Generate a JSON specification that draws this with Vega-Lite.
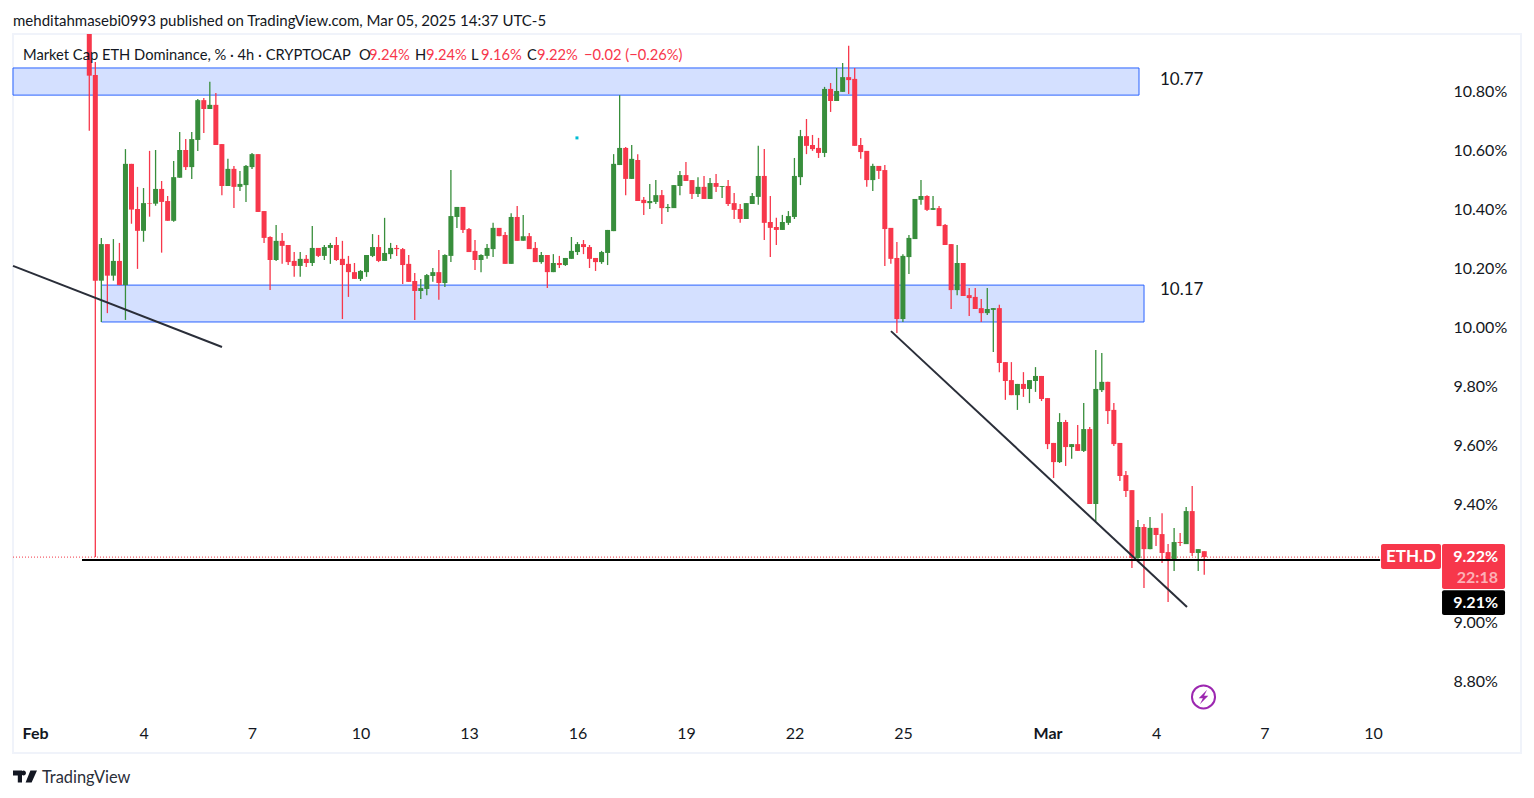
{
"$schema":"https://vega.github.io/schema/vega-lite/v6.json",
"width":1428,"height":686,
"padding":{"left":13,"top":34,"right":93,"bottom":78},
"autosize":"none",
"background":"#ffffff",
"view":{"stroke":null},
"config":{"font":"Lato"},
"datasets":{
"candles":[
{"t":"2025-02-02T12:00:00Z","o":11.02,"h":11.02,"l":10.665,"c":10.852},
{"t":"2025-02-02T16:00:00Z","o":10.854,"h":10.898,"l":9.22,"c":10.157},
{"t":"2025-02-02T20:00:00Z","o":10.157,"h":10.302,"l":10.017,"c":10.281},
{"t":"2025-02-03T00:00:00Z","o":10.281,"h":10.281,"l":10.047,"c":10.174},
{"t":"2025-02-03T04:00:00Z","o":10.174,"h":10.298,"l":10.157,"c":10.224},
{"t":"2025-02-03T08:00:00Z","o":10.224,"h":10.285,"l":10.142,"c":10.142},
{"t":"2025-02-03T12:00:00Z","o":10.142,"h":10.603,"l":10.024,"c":10.553},
{"t":"2025-02-03T16:00:00Z","o":10.553,"h":10.553,"l":10.35,"c":10.398},
{"t":"2025-02-03T20:00:00Z","o":10.4,"h":10.475,"l":10.197,"c":10.326},
{"t":"2025-02-04T00:00:00Z","o":10.326,"h":10.471,"l":10.289,"c":10.42},
{"t":"2025-02-04T04:00:00Z","o":10.42,"h":10.597,"l":10.374,"c":10.418},
{"t":"2025-02-04T08:00:00Z","o":10.418,"h":10.6,"l":10.411,"c":10.468},
{"t":"2025-02-04T12:00:00Z","o":10.468,"h":10.495,"l":10.252,"c":10.424},
{"t":"2025-02-04T16:00:00Z","o":10.427,"h":10.444,"l":10.36,"c":10.36},
{"t":"2025-02-04T20:00:00Z","o":10.36,"h":10.563,"l":10.357,"c":10.508},
{"t":"2025-02-05T00:00:00Z","o":10.506,"h":10.661,"l":10.506,"c":10.6},
{"t":"2025-02-05T04:00:00Z","o":10.6,"h":10.637,"l":10.532,"c":10.542},
{"t":"2025-02-05T08:00:00Z","o":10.542,"h":10.661,"l":10.502,"c":10.637},
{"t":"2025-02-05T12:00:00Z","o":10.634,"h":10.773,"l":10.597,"c":10.769},
{"t":"2025-02-05T16:00:00Z","o":10.769,"h":10.776,"l":10.658,"c":10.739},
{"t":"2025-02-05T20:00:00Z","o":10.739,"h":10.831,"l":10.739,"c":10.753},
{"t":"2025-02-06T00:00:00Z","o":10.753,"h":10.793,"l":10.617,"c":10.617},
{"t":"2025-02-06T04:00:00Z","o":10.62,"h":10.62,"l":10.447,"c":10.478},
{"t":"2025-02-06T08:00:00Z","o":10.478,"h":10.57,"l":10.478,"c":10.536},
{"t":"2025-02-06T12:00:00Z","o":10.536,"h":10.546,"l":10.403,"c":10.475},
{"t":"2025-02-06T16:00:00Z","o":10.475,"h":10.529,"l":10.461,"c":10.485},
{"t":"2025-02-06T20:00:00Z","o":10.481,"h":10.549,"l":10.424,"c":10.546},
{"t":"2025-02-07T00:00:00Z","o":10.542,"h":10.59,"l":10.536,"c":10.586},
{"t":"2025-02-07T04:00:00Z","o":10.586,"h":10.586,"l":10.39,"c":10.39},
{"t":"2025-02-07T08:00:00Z","o":10.393,"h":10.393,"l":10.285,"c":10.302},
{"t":"2025-02-07T12:00:00Z","o":10.305,"h":10.308,"l":10.125,"c":10.227},
{"t":"2025-02-07T16:00:00Z","o":10.227,"h":10.346,"l":10.224,"c":10.292},
{"t":"2025-02-07T20:00:00Z","o":10.292,"h":10.319,"l":10.214,"c":10.275},
{"t":"2025-02-08T00:00:00Z","o":10.278,"h":10.278,"l":10.21,"c":10.22},
{"t":"2025-02-08T04:00:00Z","o":10.224,"h":10.254,"l":10.17,"c":10.207},
{"t":"2025-02-08T08:00:00Z","o":10.207,"h":10.254,"l":10.17,"c":10.231},
{"t":"2025-02-08T12:00:00Z","o":10.231,"h":10.244,"l":10.203,"c":10.217},
{"t":"2025-02-08T16:00:00Z","o":10.217,"h":10.342,"l":10.207,"c":10.268},
{"t":"2025-02-08T20:00:00Z","o":10.268,"h":10.268,"l":10.237,"c":10.241},
{"t":"2025-02-09T00:00:00Z","o":10.241,"h":10.278,"l":10.227,"c":10.271},
{"t":"2025-02-09T04:00:00Z","o":10.268,"h":10.285,"l":10.214,"c":10.278},
{"t":"2025-02-09T08:00:00Z","o":10.278,"h":10.305,"l":10.224,"c":10.227},
{"t":"2025-02-09T12:00:00Z","o":10.231,"h":10.292,"l":10.027,"c":10.21},
{"t":"2025-02-09T16:00:00Z","o":10.214,"h":10.241,"l":10.102,"c":10.186},
{"t":"2025-02-09T20:00:00Z","o":10.186,"h":10.217,"l":10.163,"c":10.163},
{"t":"2025-02-10T00:00:00Z","o":10.163,"h":10.193,"l":10.156,"c":10.19},
{"t":"2025-02-10T04:00:00Z","o":10.186,"h":10.244,"l":10.17,"c":10.244},
{"t":"2025-02-10T08:00:00Z","o":10.241,"h":10.315,"l":10.237,"c":10.271},
{"t":"2025-02-10T12:00:00Z","o":10.271,"h":10.312,"l":10.22,"c":10.224},
{"t":"2025-02-10T16:00:00Z","o":10.224,"h":10.37,"l":10.224,"c":10.251},
{"t":"2025-02-10T20:00:00Z","o":10.247,"h":10.285,"l":10.231,"c":10.268},
{"t":"2025-02-11T00:00:00Z","o":10.268,"h":10.278,"l":10.241,"c":10.264},
{"t":"2025-02-11T04:00:00Z","o":10.264,"h":10.268,"l":10.146,"c":10.21},
{"t":"2025-02-11T08:00:00Z","o":10.214,"h":10.244,"l":10.153,"c":10.153},
{"t":"2025-02-11T12:00:00Z","o":10.156,"h":10.183,"l":10.024,"c":10.122},
{"t":"2025-02-11T16:00:00Z","o":10.122,"h":10.163,"l":10.095,"c":10.132},
{"t":"2025-02-11T20:00:00Z","o":10.129,"h":10.18,"l":10.108,"c":10.176},
{"t":"2025-02-12T00:00:00Z","o":10.173,"h":10.2,"l":10.153,"c":10.186},
{"t":"2025-02-12T04:00:00Z","o":10.186,"h":10.261,"l":10.092,"c":10.149},
{"t":"2025-02-12T08:00:00Z","o":10.149,"h":10.247,"l":10.136,"c":10.244},
{"t":"2025-02-12T12:00:00Z","o":10.241,"h":10.532,"l":10.22,"c":10.376},
{"t":"2025-02-12T16:00:00Z","o":10.373,"h":10.407,"l":10.336,"c":10.407},
{"t":"2025-02-12T20:00:00Z","o":10.407,"h":10.407,"l":10.319,"c":10.329},
{"t":"2025-02-13T00:00:00Z","o":10.332,"h":10.336,"l":10.254,"c":10.254},
{"t":"2025-02-13T04:00:00Z","o":10.258,"h":10.295,"l":10.193,"c":10.227},
{"t":"2025-02-13T08:00:00Z","o":10.227,"h":10.247,"l":10.186,"c":10.244},
{"t":"2025-02-13T12:00:00Z","o":10.241,"h":10.281,"l":10.231,"c":10.268},
{"t":"2025-02-13T16:00:00Z","o":10.264,"h":10.353,"l":10.237,"c":10.336},
{"t":"2025-02-13T20:00:00Z","o":10.336,"h":10.336,"l":10.308,"c":10.308},
{"t":"2025-02-14T00:00:00Z","o":10.312,"h":10.322,"l":10.214,"c":10.214},
{"t":"2025-02-14T04:00:00Z","o":10.214,"h":10.386,"l":10.214,"c":10.373},
{"t":"2025-02-14T08:00:00Z","o":10.373,"h":10.41,"l":10.292,"c":10.292},
{"t":"2025-02-14T12:00:00Z","o":10.292,"h":10.38,"l":10.292,"c":10.308},
{"t":"2025-02-14T16:00:00Z","o":10.308,"h":10.319,"l":10.264,"c":10.264},
{"t":"2025-02-14T20:00:00Z","o":10.268,"h":10.288,"l":10.22,"c":10.22},
{"t":"2025-02-15T00:00:00Z","o":10.22,"h":10.254,"l":10.214,"c":10.244},
{"t":"2025-02-15T04:00:00Z","o":10.244,"h":10.244,"l":10.132,"c":10.186},
{"t":"2025-02-15T08:00:00Z","o":10.186,"h":10.247,"l":10.186,"c":10.217},
{"t":"2025-02-15T12:00:00Z","o":10.217,"h":10.241,"l":10.2,"c":10.21},
{"t":"2025-02-15T16:00:00Z","o":10.21,"h":10.234,"l":10.207,"c":10.234},
{"t":"2025-02-15T20:00:00Z","o":10.231,"h":10.305,"l":10.231,"c":10.258},
{"t":"2025-02-16T00:00:00Z","o":10.254,"h":10.288,"l":10.244,"c":10.281},
{"t":"2025-02-16T04:00:00Z","o":10.281,"h":10.295,"l":10.247,"c":10.271},
{"t":"2025-02-16T08:00:00Z","o":10.271,"h":10.278,"l":10.2,"c":10.231},
{"t":"2025-02-16T12:00:00Z","o":10.234,"h":10.234,"l":10.19,"c":10.22},
{"t":"2025-02-16T16:00:00Z","o":10.22,"h":10.258,"l":10.214,"c":10.254},
{"t":"2025-02-16T20:00:00Z","o":10.251,"h":10.329,"l":10.21,"c":10.329},
{"t":"2025-02-17T00:00:00Z","o":10.325,"h":10.586,"l":10.325,"c":10.553},
{"t":"2025-02-17T04:00:00Z","o":10.549,"h":10.786,"l":10.549,"c":10.607},
{"t":"2025-02-17T08:00:00Z","o":10.607,"h":10.61,"l":10.447,"c":10.502},
{"t":"2025-02-17T12:00:00Z","o":10.502,"h":10.617,"l":10.502,"c":10.57},
{"t":"2025-02-17T16:00:00Z","o":10.566,"h":10.586,"l":10.427,"c":10.427},
{"t":"2025-02-17T20:00:00Z","o":10.431,"h":10.441,"l":10.38,"c":10.42},
{"t":"2025-02-18T00:00:00Z","o":10.42,"h":10.485,"l":10.4,"c":10.427},
{"t":"2025-02-18T04:00:00Z","o":10.424,"h":10.498,"l":10.417,"c":10.447},
{"t":"2025-02-18T08:00:00Z","o":10.447,"h":10.464,"l":10.349,"c":10.403},
{"t":"2025-02-18T12:00:00Z","o":10.403,"h":10.417,"l":10.39,"c":10.407},
{"t":"2025-02-18T16:00:00Z","o":10.403,"h":10.481,"l":10.403,"c":10.481},
{"t":"2025-02-18T20:00:00Z","o":10.478,"h":10.529,"l":10.447,"c":10.515},
{"t":"2025-02-19T00:00:00Z","o":10.515,"h":10.559,"l":10.495,"c":10.495},
{"t":"2025-02-19T04:00:00Z","o":10.498,"h":10.498,"l":10.434,"c":10.451},
{"t":"2025-02-19T08:00:00Z","o":10.451,"h":10.508,"l":10.441,"c":10.475},
{"t":"2025-02-19T12:00:00Z","o":10.475,"h":10.512,"l":10.434,"c":10.434},
{"t":"2025-02-19T16:00:00Z","o":10.434,"h":10.505,"l":10.434,"c":10.488},
{"t":"2025-02-19T20:00:00Z","o":10.488,"h":10.519,"l":10.458,"c":10.475},
{"t":"2025-02-20T00:00:00Z","o":10.475,"h":10.478,"l":10.437,"c":10.478},
{"t":"2025-02-20T04:00:00Z","o":10.478,"h":10.498,"l":10.41,"c":10.417},
{"t":"2025-02-20T08:00:00Z","o":10.42,"h":10.454,"l":10.366,"c":10.397},
{"t":"2025-02-20T12:00:00Z","o":10.4,"h":10.417,"l":10.353,"c":10.366},
{"t":"2025-02-20T16:00:00Z","o":10.366,"h":10.42,"l":10.366,"c":10.42},
{"t":"2025-02-20T20:00:00Z","o":10.417,"h":10.454,"l":10.417,"c":10.444},
{"t":"2025-02-21T00:00:00Z","o":10.441,"h":10.614,"l":10.414,"c":10.512},
{"t":"2025-02-21T04:00:00Z","o":10.512,"h":10.603,"l":10.295,"c":10.353},
{"t":"2025-02-21T08:00:00Z","o":10.356,"h":10.444,"l":10.237,"c":10.336},
{"t":"2025-02-21T12:00:00Z","o":10.339,"h":10.37,"l":10.278,"c":10.329},
{"t":"2025-02-21T16:00:00Z","o":10.329,"h":10.38,"l":10.329,"c":10.356},
{"t":"2025-02-21T20:00:00Z","o":10.353,"h":10.393,"l":10.346,"c":10.376},
{"t":"2025-02-22T00:00:00Z","o":10.373,"h":10.573,"l":10.366,"c":10.512},
{"t":"2025-02-22T04:00:00Z","o":10.508,"h":10.668,"l":10.481,"c":10.647},
{"t":"2025-02-22T08:00:00Z","o":10.647,"h":10.705,"l":10.586,"c":10.614},
{"t":"2025-02-22T12:00:00Z","o":10.617,"h":10.651,"l":10.597,"c":10.603},
{"t":"2025-02-22T16:00:00Z","o":10.607,"h":10.641,"l":10.573,"c":10.59},
{"t":"2025-02-22T20:00:00Z","o":10.59,"h":10.814,"l":10.576,"c":10.807},
{"t":"2025-02-23T00:00:00Z","o":10.807,"h":10.827,"l":10.729,"c":10.766},
{"t":"2025-02-23T04:00:00Z","o":10.766,"h":10.878,"l":10.766,"c":10.8},
{"t":"2025-02-23T08:00:00Z","o":10.797,"h":10.895,"l":10.797,"c":10.847},
{"t":"2025-02-23T12:00:00Z","o":10.847,"h":10.953,"l":10.79,"c":10.837},
{"t":"2025-02-23T16:00:00Z","o":10.841,"h":10.878,"l":10.614,"c":10.614},
{"t":"2025-02-23T20:00:00Z","o":10.617,"h":10.641,"l":10.57,"c":10.593},
{"t":"2025-02-24T00:00:00Z","o":10.597,"h":10.597,"l":10.475,"c":10.498},
{"t":"2025-02-24T04:00:00Z","o":10.498,"h":10.553,"l":10.461,"c":10.546},
{"t":"2025-02-24T08:00:00Z","o":10.546,"h":10.546,"l":10.502,"c":10.529},
{"t":"2025-02-24T12:00:00Z","o":10.532,"h":10.549,"l":10.207,"c":10.332},
{"t":"2025-02-24T16:00:00Z","o":10.336,"h":10.336,"l":10.214,"c":10.231},
{"t":"2025-02-24T20:00:00Z","o":10.234,"h":10.288,"l":9.98,"c":10.027},
{"t":"2025-02-25T00:00:00Z","o":10.027,"h":10.247,"l":10.017,"c":10.241},
{"t":"2025-02-25T04:00:00Z","o":10.237,"h":10.312,"l":10.18,"c":10.302},
{"t":"2025-02-25T08:00:00Z","o":10.298,"h":10.434,"l":10.298,"c":10.434},
{"t":"2025-02-25T12:00:00Z","o":10.431,"h":10.498,"l":10.414,"c":10.444},
{"t":"2025-02-25T16:00:00Z","o":10.444,"h":10.447,"l":10.393,"c":10.397},
{"t":"2025-02-25T20:00:00Z","o":10.397,"h":10.444,"l":10.397,"c":10.403},
{"t":"2025-02-26T00:00:00Z","o":10.403,"h":10.41,"l":10.342,"c":10.342},
{"t":"2025-02-26T04:00:00Z","o":10.346,"h":10.349,"l":10.278,"c":10.278},
{"t":"2025-02-26T08:00:00Z","o":10.281,"h":10.281,"l":10.061,"c":10.125},
{"t":"2025-02-26T12:00:00Z","o":10.125,"h":10.278,"l":10.108,"c":10.217},
{"t":"2025-02-26T16:00:00Z","o":10.217,"h":10.217,"l":10.105,"c":10.105},
{"t":"2025-02-26T20:00:00Z","o":10.108,"h":10.132,"l":10.037,"c":10.098},
{"t":"2025-02-27T00:00:00Z","o":10.102,"h":10.132,"l":10.061,"c":10.061},
{"t":"2025-02-27T04:00:00Z","o":10.064,"h":10.095,"l":10.017,"c":10.047},
{"t":"2025-02-27T08:00:00Z","o":10.047,"h":10.132,"l":10.041,"c":10.061},
{"t":"2025-02-27T12:00:00Z","o":10.058,"h":10.064,"l":9.915,"c":10.064},
{"t":"2025-02-27T16:00:00Z","o":10.064,"h":10.075,"l":9.847,"c":9.878},
{"t":"2025-02-27T20:00:00Z","o":9.881,"h":9.881,"l":9.753,"c":9.817},
{"t":"2025-02-28T00:00:00Z","o":9.82,"h":9.881,"l":9.769,"c":9.769},
{"t":"2025-02-28T04:00:00Z","o":9.769,"h":9.807,"l":9.719,"c":9.807},
{"t":"2025-02-28T08:00:00Z","o":9.807,"h":9.847,"l":9.763,"c":9.79},
{"t":"2025-02-28T12:00:00Z","o":9.79,"h":9.82,"l":9.742,"c":9.82},
{"t":"2025-02-28T16:00:00Z","o":9.817,"h":9.864,"l":9.78,"c":9.834},
{"t":"2025-02-28T20:00:00Z","o":9.834,"h":9.834,"l":9.749,"c":9.756},
{"t":"2025-03-01T00:00:00Z","o":9.759,"h":9.759,"l":9.586,"c":9.603},
{"t":"2025-03-01T04:00:00Z","o":9.607,"h":9.607,"l":9.488,"c":9.542},
{"t":"2025-03-01T08:00:00Z","o":9.542,"h":9.708,"l":9.539,"c":9.678},
{"t":"2025-03-01T12:00:00Z","o":9.678,"h":9.685,"l":9.529,"c":9.593},
{"t":"2025-03-01T16:00:00Z","o":9.593,"h":9.603,"l":9.553,"c":9.603},
{"t":"2025-03-01T20:00:00Z","o":9.603,"h":9.668,"l":9.58,"c":9.58},
{"t":"2025-03-02T00:00:00Z","o":9.58,"h":9.742,"l":9.576,"c":9.654},
{"t":"2025-03-02T04:00:00Z","o":9.654,"h":9.661,"l":9.4,"c":9.4},
{"t":"2025-03-02T08:00:00Z","o":9.4,"h":9.922,"l":9.342,"c":9.79},
{"t":"2025-03-02T12:00:00Z","o":9.786,"h":9.912,"l":9.78,"c":9.814},
{"t":"2025-03-02T16:00:00Z","o":9.814,"h":9.814,"l":9.671,"c":9.715},
{"t":"2025-03-02T20:00:00Z","o":9.719,"h":9.742,"l":9.597,"c":9.603},
{"t":"2025-03-03T00:00:00Z","o":9.607,"h":9.607,"l":9.478,"c":9.495},
{"t":"2025-03-03T04:00:00Z","o":9.498,"h":9.512,"l":9.424,"c":9.444},
{"t":"2025-03-03T08:00:00Z","o":9.447,"h":9.447,"l":9.183,"c":9.217},
{"t":"2025-03-03T12:00:00Z","o":9.217,"h":9.346,"l":9.203,"c":9.322},
{"t":"2025-03-03T16:00:00Z","o":9.322,"h":9.332,"l":9.115,"c":9.247},
{"t":"2025-03-03T20:00:00Z","o":9.247,"h":9.356,"l":9.247,"c":9.319},
{"t":"2025-03-04T00:00:00Z","o":9.319,"h":9.319,"l":9.258,"c":9.295},
{"t":"2025-03-04T04:00:00Z","o":9.298,"h":9.369,"l":9.2,"c":9.234},
{"t":"2025-03-04T08:00:00Z","o":9.237,"h":9.264,"l":9.068,"c":9.207},
{"t":"2025-03-04T12:00:00Z","o":9.207,"h":9.319,"l":9.173,"c":9.271},
{"t":"2025-03-04T16:00:00Z","o":9.271,"h":9.302,"l":9.258,"c":9.268},
{"t":"2025-03-04T20:00:00Z","o":9.264,"h":9.39,"l":9.264,"c":9.376},
{"t":"2025-03-05T00:00:00Z","o":9.376,"h":9.461,"l":9.224,"c":9.234},
{"t":"2025-03-05T04:00:00Z","o":9.234,"h":9.247,"l":9.173,"c":9.247},
{"t":"2025-03-05T08:00:00Z","o":9.24,"h":9.24,"l":9.16,"c":9.22}
]
},
"layer":[
{"data":{"values":[{"t":"2025-01-31T09:22:00Z","t2":"2025-03-14T02:15:00Z","v":10.993,"v2":8.556}]},
 "mark":{"type":"rect","fillOpacity":0,"stroke":"#f0f3fa","strokeWidth":2},
 "encoding":{
  "x":{"field":"t","type":"temporal","title":null,
   "scale":{"type":"utc","domain":["2025-01-31T09:22:00Z","2025-03-11T21:08:00Z"],"padding":0},
   "axis":{"title":null,"grid":false,"domain":false,"ticks":false,"labelPadding":5,"labelFontSize":16,"labelColor":"#131722","labelOverlap":false,
    "labelFontWeight":{"condition":{"test":"utcdate(datum.value)==1","value":"bold"},"value":"normal"},
    "values":[{"year":2025,"month":2,"date":1,"utc":true},{"year":2025,"month":2,"date":4,"utc":true},{"year":2025,"month":2,"date":7,"utc":true},{"year":2025,"month":2,"date":10,"utc":true},{"year":2025,"month":2,"date":13,"utc":true},{"year":2025,"month":2,"date":16,"utc":true},{"year":2025,"month":2,"date":19,"utc":true},{"year":2025,"month":2,"date":22,"utc":true},{"year":2025,"month":2,"date":25,"utc":true},{"year":2025,"month":3,"date":1,"utc":true},{"year":2025,"month":3,"date":4,"utc":true},{"year":2025,"month":3,"date":7,"utc":true},{"year":2025,"month":3,"date":10,"utc":true}],
    "labelExpr":"utcdate(datum.value)==1 ? utcFormat(datum.value,'%b') : ''+utcdate(datum.value)"}},
  "x2":{"field":"t2"},
  "y":{"field":"v","type":"quantitative","title":null,
   "scale":{"domain":[8.6678,10.9932],"nice":false,"zero":false},
   "axis":{"orient":"right","title":null,"grid":false,"domain":false,"ticks":false,"labelPadding":12,"labelAlign":"left","labelFontSize":16,"labelColor":"#131722","labelOverlap":false,"labelOffset":0.5,
    "values":[8.8,9,9.2,9.4,9.6,9.8,10,10.2,10.4,10.6,10.8],
    "labelExpr":"format(datum.value,'.2f')+'%'"}},
  "y2":{"field":"v2"}}},
{"data":{"values":[
  {"t":"2025-01-31T09:22:00Z","t2":"2025-03-03T12:42:00Z","v":10.878,"v2":10.786},
  {"t":"2025-02-02T20:05:00Z","t2":"2025-03-03T16:02:00Z","v":10.142,"v2":10.017}]},
 "mark":{"type":"rect","fill":"#d4e0ff","stroke":"#2962ff","strokeWidth":1},
 "encoding":{"x":{"field":"t","type":"temporal","title":null},"x2":{"field":"t2"},"y":{"field":"v","type":"quantitative","title":null},"y2":{"field":"v2"}}},
{"data":{"values":[{"t":"2025-01-31T09:22:00Z","t2":"2025-03-11T21:08:00Z","v":9.22}]},
 "mark":{"type":"rule","stroke":"#f23645","strokeWidth":1,"strokeDash":[1,2]},
 "encoding":{"x":{"field":"t","type":"temporal","title":null},"x2":{"field":"t2"},"y":{"field":"v","type":"quantitative","title":null}}},
{"data":{"name":"candles"},
 "mark":{"type":"rule","strokeWidth":1.3,"clip":true},
 "encoding":{"x":{"field":"t","type":"temporal","title":null},"y":{"field":"h","type":"quantitative","title":null},"y2":{"field":"l"},
  "stroke":{"condition":{"test":"datum.c>=datum.o","value":"#388e3c"},"value":"#f7374b"}}},
{"data":{"name":"candles"},
 "mark":{"type":"bar","size":5,"clip":true},
 "encoding":{"x":{"field":"t","type":"temporal","title":null},"y":{"field":"o","type":"quantitative","title":null},"y2":{"field":"c"},
  "fill":{"condition":{"test":"datum.c>=datum.o","value":"#388e3c"},"value":"#f7374b"}}},
{"data":{"values":[
  {"t":"2025-01-31T09:22:00Z","t2":"2025-02-06T04:05:00Z","v":10.207,"v2":9.932},
  {"t":"2025-02-24T16:06:00Z","t2":"2025-03-04T20:34:00Z","v":9.986,"v2":9.051}]},
 "mark":{"type":"rule","stroke":"#2a2e39","strokeWidth":2},
 "encoding":{"x":{"field":"t","type":"temporal","title":null},"x2":{"field":"t2"},"y":{"field":"v","type":"quantitative","title":null},"y2":{"field":"v2"}}},
{"data":{"values":[{"t":"2025-02-02T07:10:00Z","t2":"2025-03-10T04:45:00Z","v":9.21}]},
 "mark":{"type":"rule","stroke":"#000000","strokeWidth":2},
 "encoding":{"x":{"field":"t","type":"temporal","title":null},"x2":{"field":"t2"},"y":{"field":"v","type":"quantitative","title":null}}},
{"data":{"values":[{"t":"2025-02-15T23:40:00Z","v":10.641}]},
 "mark":{"type":"point","shape":"square","filled":true,"size":9,"color":"#00bcd4","opacity":1},
 "encoding":{"x":{"field":"t","type":"temporal","title":null},"y":{"field":"v","type":"quantitative","title":null}}},
{"data":{"values":[
  {"t":"2025-03-10T05:20:00Z","t2":"2025-03-11T21:08:00Z","v":9.264,"v2":9.18},
  {"t":"2025-03-11T21:49:00Z","t2":"2025-03-13T15:38:00Z","v":9.264,"v2":9.112}]},
 "mark":{"type":"rect","fill":"#f7374b","cornerRadius":2},
 "encoding":{"x":{"field":"t","type":"temporal","title":null},"x2":{"field":"t2"},"y":{"field":"v","type":"quantitative","title":null},"y2":{"field":"v2"}}},
{"data":{"values":[{"t":"2025-03-11T21:49:00Z","t2":"2025-03-13T15:38:00Z","v":9.108,"v2":9.024}]},
 "mark":{"type":"rect","fill":"#000000","cornerRadius":2},
 "encoding":{"x":{"field":"t","type":"temporal","title":null},"x2":{"field":"t2"},"y":{"field":"v","type":"quantitative","title":null},"y2":{"field":"v2"}}},
{"data":{"values":[
  {"t":"2025-01-31T09:22:00Z","v":11.037,"s":"mehditahmasebi0993 published on TradingView.com, Mar 05, 2025 14:37 UTC-5"}]},
 "mark":{"type":"text","align":"left","baseline":"middle","fontSize":15,"color":"#131722"},
 "encoding":{"x":{"field":"t","type":"temporal","title":null},"y":{"field":"v","type":"quantitative","title":null},"text":{"field":"s"}}},
{"data":{"values":[
  {"t":"2025-01-31T16:00:00Z","v":10.918,"s":"Market Cap ETH Dominance, % · 4h · CRYPTOCAP"},
  {"t":"2025-02-09T23:00:00Z","v":10.918,"s":"O"},
  {"t":"2025-02-11T12:12:00Z","v":10.918,"s":"H"},
  {"t":"2025-02-13T01:20:00Z","v":10.918,"s":"L"},
  {"t":"2025-02-14T14:31:00Z","v":10.918,"s":"C"}]},
 "mark":{"type":"text","align":"left","baseline":"middle","fontSize":14.7,"color":"#131722"},
 "encoding":{"x":{"field":"t","type":"temporal","title":null},"y":{"field":"v","type":"quantitative","title":null},"text":{"field":"s"}}},
{"data":{"values":[
  {"t":"2025-02-10T05:38:00Z","v":10.918,"s":"9.24%"},
  {"t":"2025-02-11T19:29:00Z","v":10.918,"s":"9.24%"},
  {"t":"2025-02-13T08:00:00Z","v":10.918,"s":"9.16%"},
  {"t":"2025-02-14T21:08:00Z","v":10.918,"s":"9.22%"},
  {"t":"2025-02-16T04:20:00Z","v":10.918,"s":"−0.02 (−0.26%)"}]},
 "mark":{"type":"text","align":"left","baseline":"middle","fontSize":14.7,"color":"#f7374b"},
 "encoding":{"x":{"field":"t","type":"temporal","title":null},"y":{"field":"v","type":"quantitative","title":null},"text":{"field":"s"}}},
{"data":{"values":[
  {"t":"2025-03-04T02:38:00Z","v":10.836,"s":"10.77"},
  {"t":"2025-03-04T02:38:00Z","v":10.124,"s":"10.17"}]},
 "mark":{"type":"text","align":"left","baseline":"middle","fontSize":17,"color":"#131722"},
 "encoding":{"x":{"field":"t","type":"temporal","title":null},"y":{"field":"v","type":"quantitative","title":null},"text":{"field":"s"}}},
{"data":{"values":[{"t":"2025-03-11T01:13:00Z","v":9.219,"s":"ETH.D"}]},
 "mark":{"type":"text","align":"center","baseline":"middle","fontSize":17,"fontWeight":"bold","color":"#ffffff"},
 "encoding":{"x":{"field":"t","type":"temporal","title":null},"y":{"field":"v","type":"quantitative","title":null},"text":{"field":"s"}}},
{"data":{"values":[{"t":"2025-03-13T11:00:00Z","v":9.219,"s":"9.22%"},{"t":"2025-03-13T11:00:00Z","v":9.064,"s":"9.21%"}]},
 "mark":{"type":"text","align":"right","baseline":"middle","fontSize":16,"fontWeight":"bold","color":"#ffffff"},
 "encoding":{"x":{"field":"t","type":"temporal","title":null},"y":{"field":"v","type":"quantitative","title":null},"text":{"field":"s"}}},
{"data":{"values":[{"t":"2025-03-13T11:00:00Z","v":9.15,"s":"22:18"}]},
 "mark":{"type":"text","align":"right","baseline":"middle","fontSize":16,"fontWeight":"bold","color":"#fcb0b7"},
 "encoding":{"x":{"field":"t","type":"temporal","title":null},"y":{"field":"v","type":"quantitative","title":null},"text":{"field":"s"}}},
{"data":{"values":[{"t":"2025-02-01T04:36:00Z","v":8.472,"s":"TradingView"}]},
 "mark":{"type":"text","align":"left","baseline":"middle","fontSize":16.4,"color":"#2a2e39"},
 "encoding":{"x":{"field":"t","type":"temporal","title":null},"y":{"field":"v","type":"quantitative","title":null},"text":{"field":"s"}}},
{"data":{"values":[{"t":"2025-01-31T17:20:00Z","v":8.476}]},
 "mark":{"type":"point","filled":true,"opacity":1,"color":"#131722","size":576,"shape":"M-1,-0.5 L-0.25,-0.5 L-0.25,0.5 L-0.6,0.5 L-0.6,-0.1 L-1,-0.1 Z M0.45,-0.5 L1,-0.5 L0.55,0.5 L0.05,0.5 Z M-0.12,-0.5 A0.2,0.2 0 1 1 -0.12,-0.1 A0.2,0.2 0 1 1 -0.12,-0.5 Z"},
 "encoding":{"x":{"field":"t","type":"temporal","title":null},"y":{"field":"v","type":"quantitative","title":null}}},
{"data":{"values":[{"t":"2025-03-05T07:30:00Z","v":8.746}]},
 "mark":{"type":"point","shape":"circle","filled":false,"size":530,"stroke":"#9c27b0","strokeWidth":2,"opacity":1},
 "encoding":{"x":{"field":"t","type":"temporal","title":null},"y":{"field":"v","type":"quantitative","title":null}}},
{"data":{"values":[{"t":"2025-03-05T07:30:00Z","v":8.746}]},
 "mark":{"type":"point","filled":true,"size":576,"color":"#9c27b0","opacity":1,"shape":"M0.3,-0.6 L-0.4,0.1 L-0.05,0.1 L-0.3,0.6 L0.4,-0.1 L0.05,-0.1 Z"},
 "encoding":{"x":{"field":"t","type":"temporal","title":null},"y":{"field":"v","type":"quantitative","title":null}}}
]
}
